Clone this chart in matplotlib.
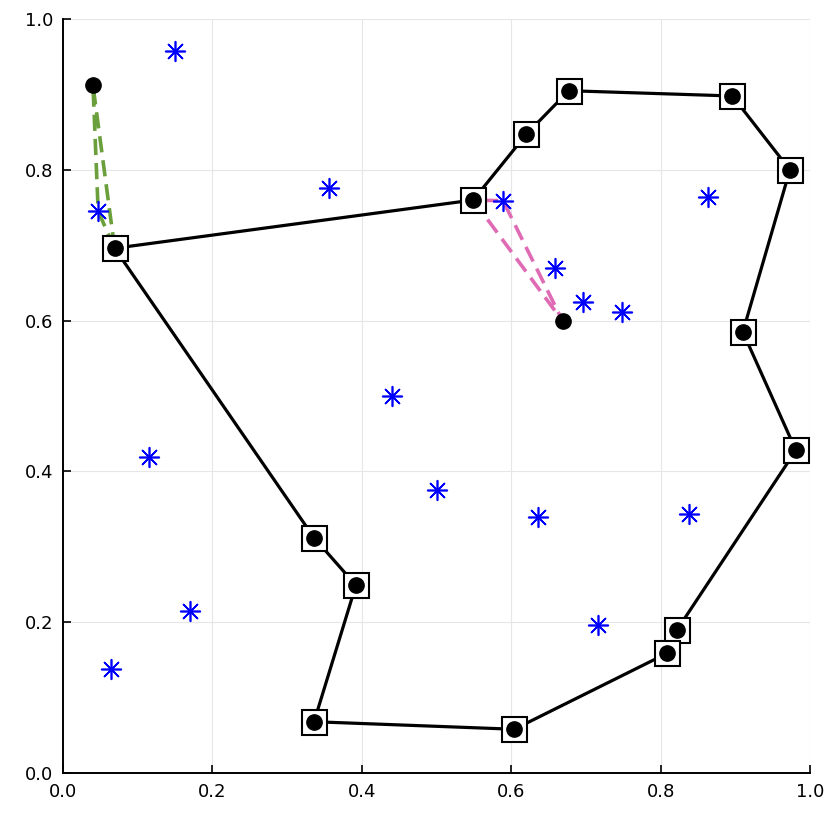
import numpy as np
import matplotlib
matplotlib.use("Agg")
import matplotlib.pyplot as plt

# hull vertices (closed polygon, in order)
hull_x = [0.069, 0.549, 0.620, 0.677, 0.896, 0.973, 0.910, 0.981, 0.822, 0.809, 0.604, 0.336, 0.392, 0.336]
hull_y = [0.696, 0.760, 0.847, 0.905, 0.898, 0.800, 0.585, 0.428, 0.190, 0.159, 0.058, 0.068, 0.249, 0.312]

# black points not on the hull
extra_x = [0.040, 0.669]
extra_y = [0.912, 0.599]

# blue star points
star_x = [0.150, 0.047, 0.356, 0.589, 0.659, 0.696, 0.748, 0.863, 0.440, 0.115,
          0.501, 0.636, 0.838, 0.170, 0.716, 0.064]
star_y = [0.958, 0.745, 0.776, 0.759, 0.670, 0.625, 0.611, 0.764, 0.500, 0.419,
          0.375, 0.340, 0.343, 0.215, 0.196, 0.138]

# dashed triangles
green_x = [0.069, 0.040, 0.047, 0.069]
green_y = [0.696, 0.912, 0.745, 0.696]
pink_x = [0.549, 0.669, 0.589, 0.549]
pink_y = [0.760, 0.599, 0.759, 0.760]

fig = plt.figure(figsize=(8.3, 8.3), dpi=100)
ax = fig.add_axes([0.076, 0.0687, 0.9, 0.9083])

ax.grid(True, color="#e6e6e6", linewidth=0.8)
ax.set_axisbelow(True)

ax.plot(green_x, green_y, color="#6a9f3b", linewidth=2.6, dashes=(4.5, 2.2), zorder=2)
ax.plot(pink_x, pink_y, color="#e06bb5", linewidth=2.6, dashes=(4.5, 2.2), zorder=2)

ax.plot(hull_x + hull_x[:1], hull_y + hull_y[:1], color="black", linewidth=2.3, zorder=3)

ax.scatter(star_x, star_y, marker=(8, 2, 0), s=200, color="blue", linewidths=1.2, zorder=4)

for x, y in zip(hull_x, hull_y):
    ax.plot([x], [y], marker="s", markersize=18, markerfacecolor="white",
            markeredgecolor="black", markeredgewidth=1.5, linestyle="none", zorder=5)
    ax.plot([x], [y], marker="o", markersize=11, color="black", linestyle="none", zorder=5)

ax.plot(extra_x, extra_y, marker="o", markersize=11, color="black", linestyle="none", zorder=5)

ax.set_xlim(0, 1)
ax.set_ylim(0, 1)
ax.set_xticks(np.arange(0, 1.01, 0.2))
ax.set_yticks(np.arange(0, 1.01, 0.2))
ax.set_xticklabels(["0.0", "0.2", "0.4", "0.6", "0.8", "1.0"])
ax.set_yticklabels(["0.0", "0.2", "0.4", "0.6", "0.8", "1.0"])
ax.tick_params(direction="in", length=6, width=1.2, labelsize=13, pad=7)
ax.spines["top"].set_visible(False)
ax.spines["right"].set_visible(False)
ax.spines["left"].set_linewidth(1.4)
ax.spines["bottom"].set_linewidth(1.4)

fig.savefig("out.png", dpi=100)
